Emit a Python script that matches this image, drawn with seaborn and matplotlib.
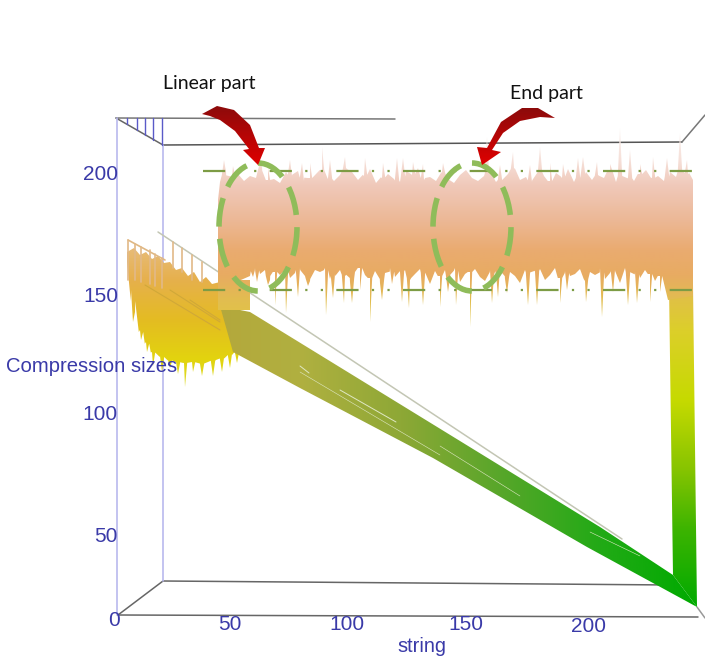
import numpy as np
import matplotlib
matplotlib.use("Agg")
import matplotlib.pyplot as plt
from matplotlib.colors import LinearSegmentedColormap
from matplotlib.patches import Ellipse, Polygon
import seaborn as sns

# ---- text ----
x_ticks = ["0", "50", "100", "150", "200"]
x_tick_px = [114, 230, 347, 466, 589]
x_tick_py = [621, 624, 624, 625, 627]
y_ticks = ["200", "150", "100", "50"]
y_tick_px = [118, 118, 118, 118]
y_tick_py = [174, 296, 414, 536]

# ---- band (compression sizes, in image coordinates) ----
band_top_x = [218, 220, 226, 232, 238, 244, 250, 256, 262, 268, 274, 280, 286, 292, 298, 304, 310, 316, 322, 328, 334, 340,
              346, 352, 358, 364, 370, 376, 382, 388, 394, 400, 406, 412, 418, 424, 430, 436, 442, 448, 454, 460, 466, 472,
              478, 484, 490, 496, 502, 508, 514, 520, 526, 532, 538, 544, 550, 556, 562, 568, 574, 580, 586, 592, 598, 604,
              610, 616, 622, 628, 634, 640, 646, 652, 658, 664, 670, 676, 682, 688, 693]
band_top_y = [200, 182, 172, 177, 174, 181, 176, 178, 167, 180, 179, 183, 172, 176, 171, 181, 178, 174, 170, 178, 181, 175,
              168, 172, 180, 176, 169, 183, 178, 174, 179, 182, 171, 175, 168, 180, 177, 181, 172, 179, 183, 175, 170, 178,
              181, 176, 171, 182, 179, 174, 168, 180, 177, 182, 170, 176, 181, 173, 178, 169, 182, 176, 172, 180, 175, 178,
              170, 182, 173, 177, 181, 174, 170, 178, 176, 181, 172, 177, 168, 174, 180]
spike_top_x = [224, 233, 260, 268, 290, 302, 310, 322, 330, 345, 365, 383, 397, 403, 413, 423, 443, 487, 500, 513, 530, 540,
               550, 563, 578, 583, 597, 610, 620, 630, 640, 653, 667, 680, 687]
spike_top_y = [160, 166, 163, 168, 160, 163, 163, 147, 160, 157, 158, 163, 158, 158, 162, 164, 163, 137, 165, 152, 165, 147,
               163, 164, 158, 157, 162, 164, 128, 150, 164, 157, 158, 133, 160]
band_bot_x = [250, 255, 260, 265, 270, 275, 280, 285, 290, 295, 300, 305, 310, 315, 320, 325, 330, 335, 340, 345, 350, 355,
              360, 365, 370, 375, 380, 385, 390, 395, 400, 405, 410, 415, 420, 425, 430, 435, 440, 445, 450, 455, 460, 465,
              470, 475, 480, 485, 490, 495, 500, 505, 510, 515, 520, 525, 530, 535, 540, 545, 550, 555, 560, 565, 570, 575,
              580, 585, 590, 595, 600, 605, 610, 615, 620, 625, 630, 635, 640, 645, 650, 655, 660, 668]
band_bot_y = [276, 268, 274, 270, 280, 272, 275, 269, 278, 273, 268, 276, 281, 270, 272, 268, 279, 274, 270, 276, 282, 272,
              268, 275, 278, 271, 283, 273, 268, 277, 272, 270, 280, 274, 269, 275, 284, 271, 276, 270, 278, 268, 282, 274,
              272, 269, 277, 281, 270, 275, 268, 279, 272, 276, 283, 270, 274, 272, 269, 280, 275, 268, 278, 271, 276, 274,
              269, 281, 272, 275, 268, 279, 273, 270, 283, 268, 275, 272, 278, 270, 274, 281, 276, 300]
spike_bot_x = [253, 257, 268, 275, 286, 298, 308, 326, 333, 344, 352, 360, 370, 382, 392, 402, 409, 423, 440, 448, 456, 470,
               492, 498, 507, 528, 537, 560, 567, 586, 602, 613, 628, 637, 650, 660]
spike_bot_y = [277, 282, 285, 305, 313, 297, 286, 315, 298, 303, 303, 290, 322, 300, 284, 302, 308, 305, 307, 292, 305, 327,
               303, 297, 293, 305, 305, 303, 290, 302, 317, 292, 305, 303, 302, 292]
band_stop_y = [125, 160, 185, 220, 250, 275, 300, 330]
band_stop_c = ["#fbf3f0", "#f6e0d9", "#f0c9ba", "#ecb896", "#eaab70", "#e8ab62", "#e2bd50", "#e0c840"]

# ---- left cluster ----
cluster_top_x = [127, 134, 140, 146, 152, 158, 164, 170, 176, 182, 188, 194, 200, 206, 212, 220]
cluster_top_y = [252, 248, 255, 252, 259, 256, 263, 262, 270, 268, 276, 272, 282, 277, 284, 282]
cluster_bot_x = [127, 131, 135, 140, 146, 152, 160, 168, 176, 184, 192, 200, 208, 216, 224, 232, 240]
cluster_bot_y = [262, 290, 312, 330, 342, 352, 356, 360, 362, 363, 362, 364, 362, 360, 358, 354, 350]
spike_clu_x = [133, 141, 147, 153, 162, 170, 178, 185, 193, 202, 213, 222, 230, 237]
spike_clu_y = [322, 340, 352, 366, 372, 368, 374, 387, 372, 376, 376, 372, 368, 363]
cluster_stop_y = [235, 280, 320, 360, 390]
cluster_stop_c = ["#e8c08a", "#e6b04c", "#e4bc22", "#e2d40e", "#dcdc30"]

# tan parallel traces above the cluster
fence_b_x = [128, 165]
fence_b_y = [240, 260]
post_x = [128, 135, 141, 150, 155, 162, 173, 182, 192, 202]
post_top = [240, 244, 247, 250, 254, 258, 242, 248, 255, 262]
post_bot = [280, 280, 282, 284, 286, 288, 268, 272, 280, 282]
clu_streak_x0 = [145, 170, 190]
clu_streak_y0 = [285, 290, 300]
clu_streak_x1 = [220, 220, 220]
clu_streak_y1 = [330, 322, 320]

# ---- diagonal sheaf ----
diag_x = [220, 250, 600, 673, 697, 587, 433, 300, 233]
diag_y = [306, 312, 527, 575, 607, 547, 458, 388, 352]
diag_stop_x = [220, 300, 400, 500, 600, 697]
diag_stop_c = ["#b4a83c", "#b0b040", "#8ea836", "#58a62a", "#22aa16", "#00aa00"]
outlier_x = [158, 622]
outlier_y = [232, 539]
streak_x0 = [340, 300, 300, 440, 590]
streak_y0 = [390, 366, 372, 446, 532]
streak_x1 = [396, 309, 440, 520, 640]
streak_y1 = [422, 373, 455, 496, 556]
streak_w = [0.7, 0.7, 0.4, 0.4, 0.4]

# ---- right column ----
col_x = [669, 693, 697, 673]
col_y = [285, 285, 607, 575]
col_stop_y = [285, 330, 400, 470, 530, 607]
col_stop_c = ["#e2bb50", "#dccf2a", "#c6da00", "#86c400", "#3cb400", "#00aa00"]

# ---- frame ----
frame_x = [[116, 395], [163, 682], [682, 705], [116, 163], [163, 672], [118, 698], [118, 163], [697, 705]]
frame_y = [[118, 119], [145, 142], [142, 115], [118, 145], [581, 585], [615, 617], [615, 581], [607, 618]]
frame_c = ["#777777", "#555555", "#777777", "#666666", "#666666", "#666666", "#666666", "#999999"]
wall_x = [[117, 117], [163, 163]]
wall_y = [[118, 615], [145, 581]]
hatch_x = [127, 137, 145, 153, 162]
hatch_top = [118, 118, 118, 118, 118]
hatch_bot = [124, 130, 135, 140, 145]

# ---- annotations ----
guide_y = [171, 290]
guide_x = [203, 692]
ell_cx = [258, 472]
ell_cy = [227, 227]
arrow_a_x = [202, 217, 234, 250, 259, 265, 258, 243, 249, 235, 220, 210]
arrow_a_y = [114, 106, 110, 125, 148, 148, 165, 150, 149, 131, 120, 116]
arrow_b_x = [555, 538, 522, 501, 487, 477, 482, 501, 492, 503, 520, 540]
arrow_b_y = [118, 108, 108, 122, 148, 147, 165, 152, 150, 133, 121, 117]

sns.set_theme(style="white")
fig = plt.figure(figsize=(7.05, 6.56), dpi=100)
ax = fig.add_axes([0, 0, 1, 1])
ax.set_axis_off()


def envelope(cx, cy, sx, sy):
    px, py = list(cx), list(cy)
    for x, y in zip(sx, sy):
        base = np.interp(x, cx, cy)
        px += [x - 2.2, x, x + 2.2]
        py += [base, y, base]
    order = np.argsort(px, kind="stable")
    return list(np.array(px)[order]), list(np.array(py)[order])


def grad(xs, ys, stops, colors, vertical=True, z=2, alpha=1.0):
    lo, hi = stops[0], stops[-1]
    cmap = LinearSegmentedColormap.from_list(
        "g", [((s - lo) / (hi - lo), c) for s, c in zip(stops, colors)])
    ramp = np.linspace(0, 1, 512)
    img = ramp[:, None] if vertical else ramp[None, :]
    if vertical:
        ext = (min(xs) - 2, max(xs) + 2, hi, lo)
    else:
        ext = (lo, hi, max(ys) + 2, min(ys) - 2)
    im = ax.imshow(img, cmap=cmap, extent=ext, origin="upper", aspect="auto", zorder=z, alpha=alpha)
    poly = Polygon(np.c_[xs, ys], closed=True, transform=ax.transData, fc="none", ec="none")
    ax.add_patch(poly)
    im.set_clip_path(poly)


def seg(xs, ys, color, lw, z, **kw):
    sns.lineplot(x=xs, y=ys, ax=ax, color=color, lw=lw, zorder=z, sort=False,
                 estimator=None, legend=False, **kw)


# frame
for xs, ys, c in zip(frame_x, frame_y, frame_c):
    seg(xs, ys, c, 1.1, 1)
for xs, ys in zip(wall_x, wall_y):
    seg(xs, ys, "#b9b9ee", 1.2, 1)
for x, a, b in zip(hatch_x, hatch_top, hatch_bot):
    seg([x, x], [a, b], "#5a5ac8", 1.0, 1)

# cluster
tx, ty = envelope(cluster_top_x, cluster_top_y, [], [])
bx, by = envelope(cluster_bot_x, cluster_bot_y, spike_clu_x, spike_clu_y)
grad(tx + [240] + bx[::-1], ty + [300] + by[::-1], cluster_stop_y, cluster_stop_c, z=2)
seg(outlier_x, outlier_y, "#c3c6b4", 1.1, 2)
seg(fence_b_x, fence_b_y, "#dfb884", 1.2, 2)
for x, a, b in zip(post_x, post_top, post_bot):
    seg([x, x], [a, b], "#e2b988", 1.2, 2)
for x0, y0, x1, y1 in zip(clu_streak_x0, clu_streak_y0, clu_streak_x1, clu_streak_y1):
    seg([x0, x1], [y0, y1], "#d0a838", 0.8, 2.5)

# diagonal
grad(diag_x, diag_y, diag_stop_x, diag_stop_c, vertical=False, z=3)
for x0, y0, x1, y1, w in zip(streak_x0, streak_y0, streak_x1, streak_y1, streak_w):
    seg([x0, x1], [y0, y1], "#dfe8c4", w, 3.5)

# right column
grad(col_x, col_y, col_stop_y, col_stop_c, z=4)

# band
tx, ty = envelope(band_top_x, band_top_y, spike_top_x, spike_top_y)
bx, by = envelope(band_bot_x, band_bot_y, spike_bot_x, spike_bot_y)
grad(tx + [693] + bx[::-1] + [218], ty + [296] + by[::-1] + [290], band_stop_y, band_stop_c, z=5)
grad([218, 250, 250, 218], [280, 280, 310, 310], band_stop_y, band_stop_c, z=5)

# guides
for y in guide_y:
    seg(guide_x, [y, y], "#7d9c45", 1.6, 6, dashes=(10, 6, 1, 6, 1, 6))

# ellipses
for cx, cy in zip(ell_cx, ell_cy):
    ax.add_patch(Ellipse((cx, cy), 78, 128, fill=False, ec="#8fbc5a", lw=4,
                         ls=(0, (5.2, 2.2)), zorder=7))

# arrows
for xs, ys in ((arrow_a_x, arrow_a_y), (arrow_b_x, arrow_b_y)):
    grad(xs, ys, [min(ys), max(ys)], ["#8c0b0b", "#e00000"], z=8)

# text
blue = "#3a3aa8"
for s, x, y in zip(x_ticks, x_tick_px, x_tick_py):
    ax.text(x, y, s, color=blue, fontsize=15, family="Liberation Sans", ha="center", va="center", zorder=9)
for s, x, y in zip(y_ticks, y_tick_px, y_tick_py):
    ax.text(x, y, s, color=blue, fontsize=15, family="Liberation Sans", ha="right", va="center", zorder=9)
ax.text(6, 366, "Compression sizes", color=blue, fontsize=14.6, family="Liberation Sans", va="center", zorder=9)
ax.text(422, 646, "string", color=blue, fontsize=14.4, family="Liberation Sans", ha="center", va="center", zorder=9)
ax.text(163, 83, "Linear part", color="#111111", fontsize=14, family="Lato", va="center", zorder=9)
ax.text(510, 93, "End part", color="#111111", fontsize=14, family="Lato", va="center", zorder=9)

ax.set_xlim(0, 705)
ax.set_ylim(656, 0)
fig.savefig("out.png", dpi=100)
